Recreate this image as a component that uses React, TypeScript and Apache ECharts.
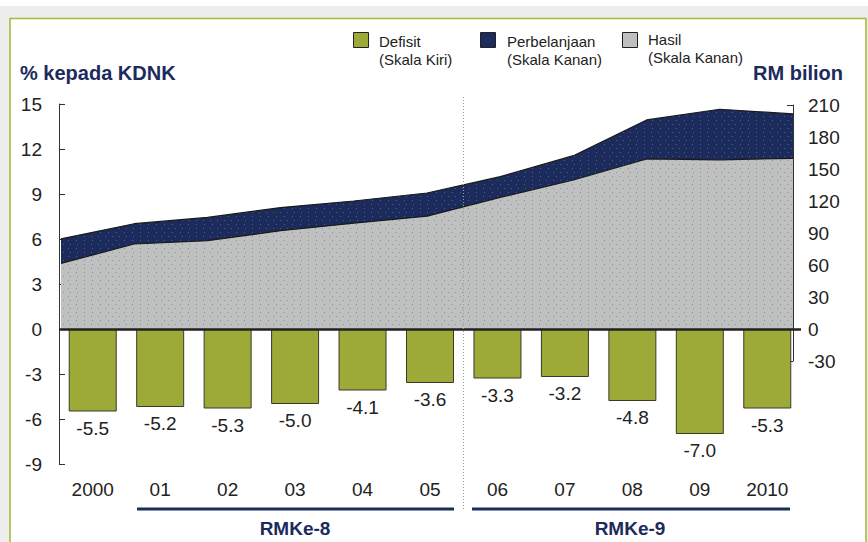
import React, { useEffect, useRef } from "react";
import * as echarts from "echarts";

const years = ["2000", "01", "02", "03", "04", "05", "06", "07", "08", "09", "2010"];
const defisit = [-5.5, -5.2, -5.3, -5.0, -4.1, -3.6, -3.3, -3.2, -4.8, -7.0, -5.3];
const perbelanjaan = [84.5, 98.7, 104.6, 113.8, 120.0, 127.5, 142.8, 162.5, 196.0, 206.0, 201.6];
const hasil = [61.5, 79.7, 82.8, 92.2, 99.2, 105.8, 123.4, 139.7, 159.4, 158.6, 160.0];
const leftTicks = { min: -9, max: 15, interval: 3 };
const rightTicks = { min: -30, max: 210, interval: 30 };

const FONT = "'Liberation Sans', Arial, sans-serif";
const NAVY = "#1c2a5c";
const GREEN = "#9eaa38";
const GRAY = "#c0c0c0";
const TXT = "#222222";

export default function App() {
  const ref = useRef<HTMLDivElement>(null);
  useEffect(() => {
    document.body.style.margin = "0";
    const chart = echarts.init(ref.current!, null, { renderer: "svg" });
    const decalNavy = {
      symbol: "rect",
      symbolSize: 1,
      color: "rgba(60,160,175,0.55)",
      dashArrayX: [[1, 6], [0, 3.5, 1, 2.5]],
      dashArrayY: [1, 3],
    };
    const decalGray = {
      symbol: "rect",
      symbolSize: 1,
      color: "rgba(40,130,160,0.55)",
      dashArrayX: [[1, 6], [0, 3.5, 1, 2.5]],
      dashArrayY: [1, 3],
    };
    chart.setOption({
      animation: false,
      backgroundColor: "#ffffff",
      textStyle: { fontFamily: FONT },
      grid: [
        { left: 59, right: 67, top: 104, height: 360, containLabel: false },
        { left: 61, right: 75, top: 105, height: 256, containLabel: false },
      ],
      xAxis: [
        {
          type: "category",
          gridIndex: 0,
          data: years,
          position: "bottom",
          axisLine: { show: false, onZero: false },
          axisTick: { show: false },
          axisLabel: { fontSize: 19, color: TXT, margin: 16, fontFamily: FONT },
        },
        {
          type: "category",
          gridIndex: 1,
          data: years,
          boundaryGap: false,
          show: false,
        },
      ],
      yAxis: [
        {
          type: "value",
          gridIndex: 0,
          min: leftTicks.min,
          max: leftTicks.max,
          interval: leftTicks.interval,
          axisLine: { show: true, lineStyle: { color: "#333", width: 1 } },
          axisTick: { show: true, inside: true, length: 6, lineStyle: { color: "#333" } },
          axisLabel: { fontSize: 19, color: TXT, margin: 17, fontFamily: FONT },
          splitLine: { show: false },
        },
        {
          type: "value",
          gridIndex: 1,
          position: "right",
          min: rightTicks.min,
          max: rightTicks.max,
          interval: rightTicks.interval,
          axisLine: { show: true, lineStyle: { color: "#333", width: 1 } },
          axisTick: { show: true, inside: true, length: 6, lineStyle: { color: "#333" } },
          axisLabel: { fontSize: 19, color: TXT, margin: 15, fontFamily: FONT },
          splitLine: { show: false },
        },
      ],
      series: [
        {
          name: "Perbelanjaan",
          type: "line",
          xAxisIndex: 1,
          yAxisIndex: 1,
          data: perbelanjaan,
          symbol: "none",
          lineStyle: { color: "#1a1a1a", width: 1.2 },
          itemStyle: { color: NAVY, decal: decalNavy },
          areaStyle: { color: NAVY, opacity: 1 },
          z: 2,
        },
        {
          name: "Hasil",
          type: "line",
          xAxisIndex: 1,
          yAxisIndex: 1,
          data: hasil,
          symbol: "none",
          lineStyle: { color: "#1a1a1a", width: 1.2 },
          itemStyle: { color: GRAY, decal: decalGray },
          areaStyle: { color: GRAY, opacity: 1 },
          z: 3,
        },
        {
          name: "Defisit",
          type: "bar",
          xAxisIndex: 0,
          yAxisIndex: 0,
          data: defisit,
          barWidth: 48,
          itemStyle: { color: GREEN, borderColor: "#3a3a2a", borderWidth: 1 },
          label: {
            show: true,
            position: "bottom",
            distance: 7,
            fontSize: 19,
            color: TXT,
            fontFamily: FONT,
            formatter: (p: any) => Number(p.value).toFixed(1),
          },
          markLine: {
            silent: true,
            symbol: "none",
            label: { show: false },
            lineStyle: { color: "#222", width: 2.5, type: "solid" },
            data: [{ yAxis: 0 }],
            z: 5,
          },
          z: 4,
        },
      ],
      graphic: [
        { type: "rect", shape: { x: 0, y: 6, width: 868, height: 536 }, style: { fill: "#ecedec" }, z: -10, silent: true },
        { type: "rect", shape: { x: 10, y: 18.5, width: 856, height: 540 }, style: { fill: "#ffffff", stroke: "#a8bd3c", lineWidth: 1.6 }, z: -9, silent: true },
        {
          type: "text", left: 20, top: 63,
          style: { text: "% kepada KDNK", font: `bold 20px ${FONT}`, fill: NAVY },
        },
        {
          type: "text", right: 25, top: 63,
          style: { text: "RM bilion", font: `bold 20px ${FONT}`, fill: NAVY, textAlign: "right" },
        },
        { type: "rect", shape: { x: 353.5, y: 32.5, width: 15, height: 15 }, style: { fill: GREEN, stroke: "#222", lineWidth: 1 } },
        { type: "text", x: 379, y: 41, style: { text: "Defisit", font: `15px ${FONT}`, fill: TXT, textVerticalAlign: "middle" } },
        { type: "text", x: 379, y: 59, style: { text: "(Skala Kiri)", font: `15px ${FONT}`, fill: TXT, textVerticalAlign: "middle" } },
        { type: "rect", shape: { x: 480.5, y: 32.5, width: 15, height: 15 }, style: { fill: NAVY, stroke: "#222", lineWidth: 1 } },
        { type: "text", x: 507, y: 41, style: { text: "Perbelanjaan", font: `15px ${FONT}`, fill: TXT, textVerticalAlign: "middle" } },
        { type: "text", x: 507, y: 59, style: { text: "(Skala Kanan)", font: `15px ${FONT}`, fill: TXT, textVerticalAlign: "middle" } },
        { type: "rect", shape: { x: 622.5, y: 32.5, width: 15, height: 15 }, style: { fill: GRAY, stroke: "#222", lineWidth: 1 } },
        { type: "text", x: 648, y: 39, style: { text: "Hasil", font: `15px ${FONT}`, fill: TXT, textVerticalAlign: "middle" } },
        { type: "text", x: 648, y: 57, style: { text: "(Skala Kanan)", font: `15px ${FONT}`, fill: TXT, textVerticalAlign: "middle" } },
        {
          type: "line", shape: { x1: 463.5, y1: 97, x2: 463.5, y2: 510 },
          style: { stroke: "#999", lineWidth: 1, lineDash: [1, 2] }, z: 10,
        },
        { type: "line", shape: { x1: 137, y1: 509, x2: 454, y2: 509 }, style: { stroke: NAVY, lineWidth: 3 } },
        { type: "line", shape: { x1: 472, y1: 509, x2: 790, y2: 509 }, style: { stroke: NAVY, lineWidth: 3 } },
        {
          type: "text", x: 295, y: 528,
          style: { text: "RMKe-8", font: `bold 19px ${FONT}`, fill: NAVY, textAlign: "center", textVerticalAlign: "middle" },
        },
        {
          type: "text", x: 630, y: 528,
          style: { text: "RMKe-9", font: `bold 19px ${FONT}`, fill: NAVY, textAlign: "center", textVerticalAlign: "middle" },
        },
      ],
    });
    return () => chart.dispose();
  }, []);
  return <div ref={ref} style={{ position: "fixed", left: 0, top: 0, width: 868, height: 542 }} />;
}
